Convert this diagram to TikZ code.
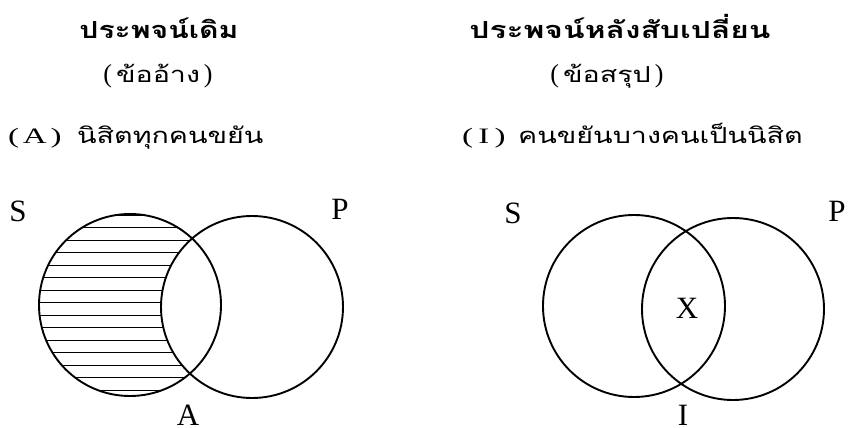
\documentclass[tikz,border=0pt]{standalone}
\usepackage{fontspec}
\usepackage{graphicx}
\setmainfont{Liberation Serif}
\newfontfamily\thai[Script=Thai]{Loma}
\newcommand{\wide}[2]{\scalebox{#1}[1]{#2}}
\tikzset{
  venn/.style={circle, draw, line width=1.9pt, minimum size=182pt, inner sep=0pt},
  lbl/.style={font=\fontsize{31}{31}\selectfont, inner sep=0pt, anchor=base},
  ttl/.style={font=\thai\bfseries\fontsize{23.5}{26}\selectfont, inner sep=0pt, anchor=base},
  sub/.style={font=\fontsize{26}{28}\selectfont, inner sep=0pt, anchor=base},
  thaitxt/.style={font=\thai\fontsize{22}{24}\selectfont, inner sep=0pt, anchor=base west},
  latin/.style={font=\fontsize{22}{24}\selectfont, inner sep=0pt, anchor=base west},
  hatch/.style={line width=0.9pt}
}
\begin{document}
\begin{tikzpicture}[x=1pt,y=-1pt]
\useasboundingbox (0,0) rectangle (849,428);
% titles
\node[ttl] (t1) at (159,39) {\wide{1.28}{ประพจน์เดิม}};
\node[sub] (s1) at (158,82) {(\kern4pt{\thai\fontsize{22}{24}\selectfont\wide{1.3}{ข้ออ้าง}}\kern4pt)};
\node[latin] (p1a) at (8,143) {\wide{1.5}{(\kern2.5pt A\kern2.5pt)}};
\node[thaitxt] (p1) at (77,143) {\wide{1.3}{นิสิตทุกคนขยัน}};
\node[ttl] (t2) at (620,39) {\wide{1.35}{ประพจน์หลังสับเปลี่ยน}};
\node[sub] (s2) at (607,82) {(\kern4pt{\thai\fontsize{22}{24}\selectfont\wide{1.3}{ข้อสรุป}}\kern4pt)};
\node[latin] (p2a) at (462,143) {\wide{1.5}{(\kern3.5pt I\kern3.5pt)}};
\node[thaitxt] (p2) at (518,143) {\wide{1.3}{คนขยันบางคนเป็นนิสิต}};
% left diagram hatching
\begin{scope}
  \clip (130,305) circle (91pt);
  \foreach \yy in {215,227.5,...,400} {
    \draw[hatch] (30,\yy) -- (230,\yy);
  }
\end{scope}
\fill[white] (252,307) circle (91pt);
\node[venn] (S1) at (130,305) {};
\node[venn] (P1) at (252,307) {};
\node[lbl] (lS1) at (18,221) {S};
\node[lbl] (lP1) at (340,219) {P};
\node[lbl] (lA) at (188,425) {A};
% right diagram
\node[venn] (S2) at (634,306) {};
\node[venn] (P2) at (733,309) {};
\node[lbl] (lS2) at (513,223) {S};
\node[lbl] (lP2) at (837,221) {P};
\node[lbl] (lX) at (687,318) {X};
\node[lbl] (lI) at (683,425) {I};
\end{tikzpicture}
\end{document}
